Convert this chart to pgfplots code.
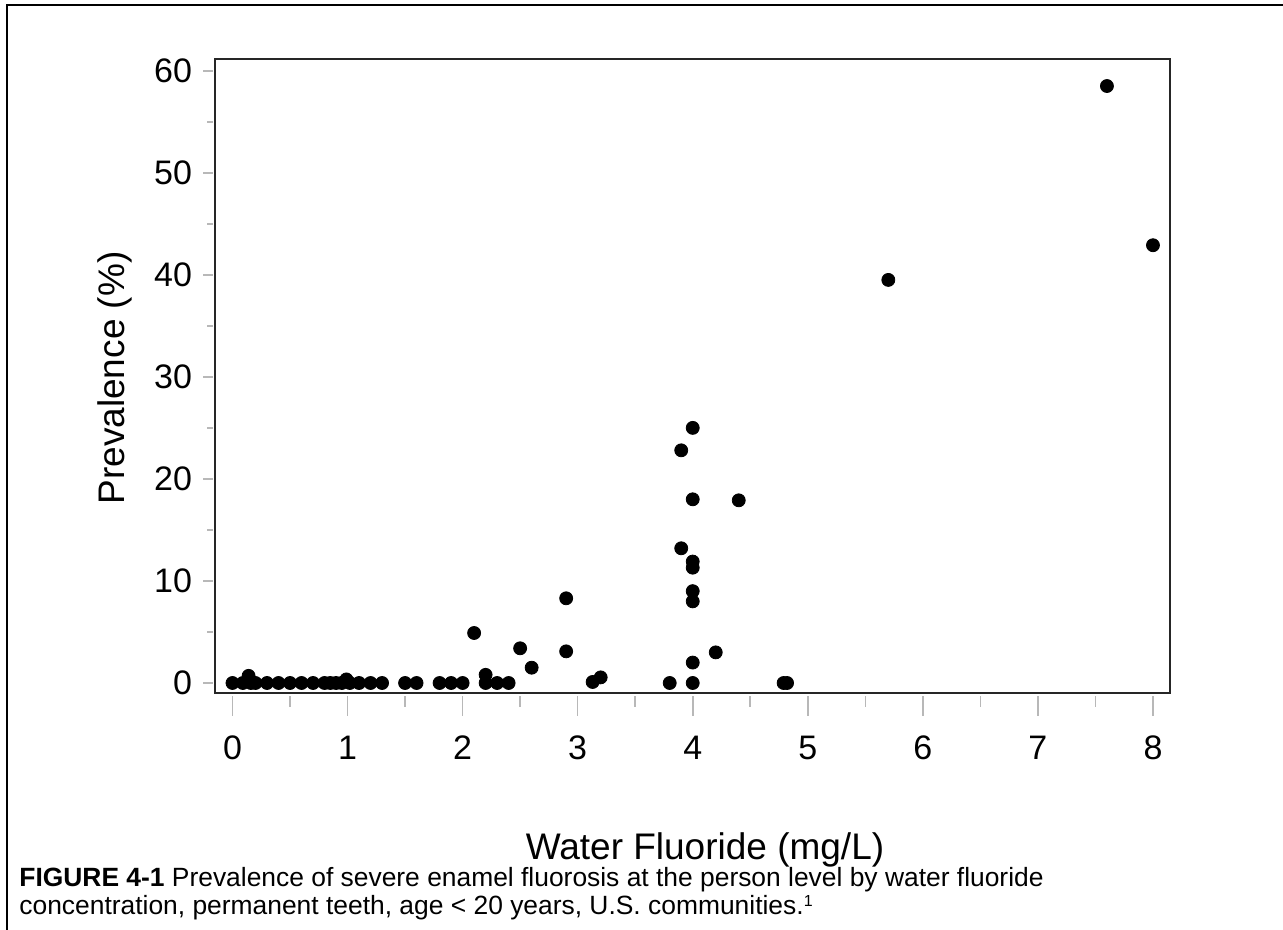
\documentclass[border=0pt]{standalone}
\usepackage{pgfplots}
\pgfplotsset{compat=1.18}
\usepackage{fontspec}
\setmainfont{Liberation Sans}
\begin{document}
\begin{tikzpicture}
\path[use as bounding box] (0,0) rectangle (641.5pt,465pt);
\draw[line width=1.1pt] (3.5pt,0) -- (3.5pt,462.5pt) -- (641.5pt,462.5pt);
\pgfplotsset{
  common/.style={
    at={(107.5pt,118.5pt)}, anchor=south west,
    scale only axis, width=477.5pt, height=316.85pt,
    xmin=-0.152, xmax=8.148, ymin=-0.98, ymax=61.12,
    /pgf/number format/assume math mode=true,
  }
}
\begin{axis}[common,
  axis line style={draw=black!85, line width=0.9pt},
  xtick={0,1,...,8}, ytick={0,10,...,60},
  minor ytick={5,15,...,55},
  xtick pos=bottom, ytick pos=left,
  tick align=outside,
  major tick length=5pt, minor tick length=3pt,
  x tick style={draw=none},
  y tick style={draw=black!28, line width=0.8pt, xshift=-1pt},
  tick label style={font=\fontsize{17}{17}\selectfont},
  yticklabel style={xshift=-3pt},
  xticklabel style={yshift=-13pt},
]
\end{axis}
\begin{axis}[common,
  axis line style={draw=none},
  xtick={0,1,...,8}, minor xtick={0.5,1.5,...,7.5},
  xticklabels={}, ytick=\empty,
  xtick pos=bottom,
  tick align=outside,
  major tick length=10pt, minor tick length=5.5pt,
  x tick style={draw=black!28, line width=0.8pt, yshift=-1.5pt},
]
\addplot[only marks, mark=*, mark size=3.25pt, black] coordinates {
(0,0) (0.09,0) (0.16,0) (0.2,0) (0.3,0) (0.4,0) (0.5,0) (0.6,0) (0.7,0)
(0.8,0) (0.85,0) (0.9,0) (0.95,0) (1.02,0) (1.1,0) (1.2,0) (1.3,0)
(1.5,0) (1.6,0) (1.8,0) (1.9,0) (2.0,0) (2.2,0) (2.3,0) (2.4,0)
(3.8,0) (4.0,0) (4.79,0) (4.82,0)
(0.14,0.7) (0.99,0.35) (2.2,0.8) (3.13,0.1) (3.2,0.55)
(2.1,4.9) (2.5,3.4) (2.6,1.5) (2.9,8.3) (2.9,3.1)
(3.9,22.8) (3.9,13.2) (4.0,25.0) (4.0,18.0) (4.0,11.9) (4.0,11.3)
(4.0,9.0) (4.0,8.0) (4.0,2.0) (4.2,3.0) (4.4,17.9)
(5.7,39.5) (7.6,58.5) (8.0,42.9)
};
\end{axis}
\node[rotate=90, font=\fontsize{18.5}{18.5}\selectfont] at (57.5pt,276pt) {Prevalence (\%)};
\node[anchor=base, font=\fontsize{18.5}{18.5}\selectfont] at (352.5pt,35pt) {Water Fluoride (mg/L)};
\node[anchor=base west, inner sep=0pt, font=\fontsize{13.2}{13.2}\selectfont] at (9.5pt,21.5pt) {\textbf{FIGURE 4-1} Prevalence of severe enamel fluorosis at the person level by water fluoride};
\node[anchor=base west, inner sep=0pt, font=\fontsize{13.2}{13.2}\selectfont] at (9.5pt,7.5pt) {concentration, permanent teeth, age < 20 years, U.S. communities.\textsuperscript{\fontsize{8}{8}\selectfont 1}};
\end{tikzpicture}
\end{document}
